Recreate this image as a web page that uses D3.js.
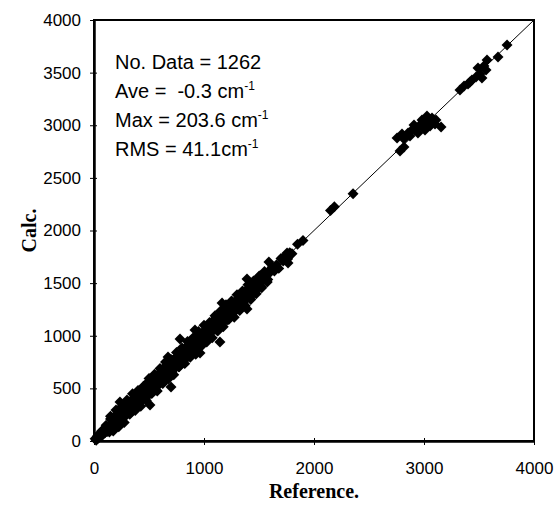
<!DOCTYPE html>
<html>
<head>
<meta charset="utf-8">
<script src="https://cdn.jsdelivr.net/npm/d3@7"></script>
<style>
  body { margin: 0; background: #fff; }
  svg { display: block; }
  .tick text { font-family: "Liberation Sans", Arial, sans-serif; font-size: 17px; fill: #000; }
  .note { font-family: "Liberation Sans", Arial, sans-serif; font-size: 20px; fill: #000; white-space: pre; }
  .title { font-family: "Liberation Serif", "Times New Roman", serif; font-size: 20px; font-weight: bold; fill: #000; }
</style>
</head>
<body>
<div id="chart"></div>
<script>
// axis ticks
var xTicks = [0, 1000, 2000, 3000, 4000];
var yTicks = [0, 500, 1000, 1500, 2000, 2500, 3000, 3500, 4000];

// [reference, calculated] pairs
var lowPoints = [
  [10,22],[20,8],[30,45],[40,28],[50,70],[60,42],[70,95],[80,60],[90,112],[100,78],
  [110,150],[120,90],[130,140],[140,85],[150,210],[160,145],[170,195],[180,135],[190,195],[200,250],
  [210,150],[220,250],[230,210],[240,285],[250,215],[260,260],[270,325],[280,230],[290,310],[300,290],
  [310,345],[320,280],[330,345],[340,275],[350,400],[360,335],[370,400],[380,375],[390,435],[400,345]
];
var midPoints = [
  [410,390],[420,455],[430,380],[440,455],[450,510],[460,420],[470,475],[480,455],[490,535],[500,440],
  [510,530],[520,575],[530,520],[540,495],[550,580],[560,530],[570,620],[580,580],[590,535],[600,625],
  [610,650],[620,605],[630,595],[640,700],[650,660],[660,610],[670,705],[680,660],[690,735],[700,695],
  [710,655],[720,765],[730,725],[740,770],[750,725],[760,810],[770,705],[780,795],[790,750],[800,835],
  [810,800],[820,840],[830,780],[840,895],[850,850],[860,825],[870,915],[880,860],[890,920],[900,840],
  [910,960],[920,925],[930,885],[940,965],[950,935],[960,1020],[970,915],[980,990],[990,960],[1000,1040],
  [215,230],[235,190],[255,290],[275,265],[295,345],[315,285],[335,340],[355,300],[375,415],[395,375],
  [415,440],[435,395],[455,510],[475,460],[495,505],[515,465],[535,565],[555,550],[575,620],[595,560],
  [615,635],[635,575],[655,695],[675,650],[695,695],[715,765],[735,690],[755,770],[775,755],[795,830],
  [815,760],[835,860],[855,845],[875,920],[895,855],[915,925],[935,910],[955,1010],[975,940],[995,1015]
];
var upperPoints = [
  [1010,1005],[1020,1065],[1030,1010],[1040,1075],[1050,1000],[1060,1070],[1070,1130],[1080,1045],[1090,1075],[1100,1140],
  [1110,1135],[1120,1065],[1130,1130],[1140,1190],[1150,1120],[1160,1190],[1170,1125],[1180,1170],[1190,1245],[1200,1220],
  [1210,1150],[1220,1265],[1230,1205],[1240,1245],[1250,1210],[1260,1320],[1270,1285],[1280,1230],[1290,1325],[1300,1280],
  [1015,1035],[1035,995],[1055,1105],[1075,1060],[1095,1125],[1115,1055],[1135,1145],[1155,1200],[1175,1145],[1195,1195],
  [1215,1270],[1235,1190],[1255,1280],[1275,1255],[1295,1335],[1315,1310],[1335,1280],[1355,1390],[1375,1390],[1395,1360],
  [1310,1340],[1320,1275],[1330,1340],[1340,1395],[1350,1330],[1360,1300],[1370,1410],[1380,1380],[1390,1355],[1400,1450],
  [1410,1400],[1420,1445],[1430,1380],[1440,1455],[1450,1495],[1460,1435],[1470,1475],[1480,1440],[1490,1525],[1500,1485],
  [1510,1570],[1520,1465],[1530,1550],[1540,1535],[1550,1590],[1560,1530],[1570,1580],[1580,1535],[1590,1615],[1600,1600],
  [1620,1650],[1640,1615],[1660,1675],[1680,1640],[1700,1735],[1720,1710],[1740,1760],[1760,1730],[1780,1790],[1800,1780]
];
var widePoints = [
  [150,235],[175,95],[200,295],[225,135],[250,325],[275,175],[300,390],[325,255],[350,450],[375,290],
  [400,480],[425,330],[450,520],[475,385],[500,595],[525,450],[550,635],[575,475],[600,690],[625,545],
  [650,750],[675,590],[700,775],[725,630],[750,840],[775,705],[800,885],[825,735],[850,945],[875,795],
  [900,980],[925,825],[950,1040],[975,900],[1000,1100],[1025,940],[1050,1125],[1075,980],[1100,1190],[1125,1045],
  [1150,1235],[1175,1085],[1200,1295],[1225,1155],[1250,1330],[1275,1175],[1300,1390],[1325,1240],[1350,1425],[1375,1285],
  [1400,1485],[1425,1345],[1450,1520],[1475,1400],[1500,1565],[1525,1455],[1550,1610],[1575,1510]
];
var outlierPoints = [
  [236,370],[509,342],[491,561],[527,598],[700,513],[673,798],[782,969],[918,1055],[964,836],
  [1145,941],[1164,1311],[1391,1540],[1391,1255],[1590,1700],[1764,1691],[1755,1786]
];
var highPoints = [
  [1850,1870],[1900,1905],[2150,2190],[2185,2225],[2355,2350],
  [2782,2755],[2818,2793],
  [2755,2879],[2800,2917],[2855,2926],[2891,2955],[2936,2974],[2964,3002],[3000,3012],[3036,3040],
  [3073,3069],[3109,3050],[3155,2983],[3009,2955],[2945,2926],[2873,2898],[3055,2993],[3100,3012],
  [3027,3088],[2818,2869],[2909,3002],[2982,3050],
  [3327,3335],[3364,3373],[3400,3392],[3418,3411],[3436,3430],[3473,3459],[3509,3487],[3545,3563],
  [3573,3620],[3564,3525],[3527,3449],[3491,3544],
  [3673,3649],[3755,3763]
];
var notes = [
  {text: "No. Data = 1262", sup: null},
  {text: "Ave =  -0.3 cm", sup: "-1"},
  {text: "Max = 203.6 cm", sup: "-1"},
  {text: "RMS = 41.1cm", sup: "-1"}
];

var allPoints = lowPoints.concat(midPoints, upperPoints, widePoints, outlierPoints, highPoints);

var W = 556, H = 508;
var margin = {top: 20, right: 22, bottom: 67, left: 94};
var width = W - margin.left - margin.right,
    height = H - margin.top - margin.bottom;

var svg = d3.select("#chart").append("svg")
    .attr("width", W)
    .attr("height", H);
var g = svg.append("g")
    .attr("transform", "translate(" + margin.left + "," + margin.top + ")");

var x = d3.scaleLinear().domain([0, 4000]).range([0, width]);
var y = d3.scaleLinear().domain([0, 4000]).range([height, 0]);

// frame
g.append("rect")
    .attr("width", width)
    .attr("height", height)
    .attr("fill", "none")
    .attr("stroke", "#000")
    .attr("stroke-width", 2);

// 1:1 line
g.append("line")
    .attr("x1", x(0)).attr("y1", y(0))
    .attr("x2", x(4000)).attr("y2", y(4000))
    .attr("stroke", "#000")
    .attr("stroke-width", 1);

// points
var diamond = d3.symbol().type(d3.symbolSquare).size(60);
g.selectAll(".pt")
    .data(allPoints)
    .enter().append("path")
    .attr("class", "pt")
    .attr("d", diamond)
    .attr("fill", "#000")
    .attr("transform", function (d) {
        return "translate(" + x(d[0]) + "," + y(d[1]) + ") rotate(45)";
    });

// axes
var fmt = d3.format("d");
var xAxis = g.append("g")
    .attr("transform", "translate(0," + height + ")")
    .call(d3.axisBottom(x).tickValues(xTicks).tickFormat(fmt).tickSize(4).tickPadding(17).tickSizeOuter(0));
var yAxis = g.append("g")
    .call(d3.axisLeft(y).tickValues(yTicks).tickFormat(fmt).tickSize(4).tickPadding(9).tickSizeOuter(0));

[xAxis, yAxis].forEach(function (a) {
    a.select(".domain").attr("stroke", "#000").attr("stroke-width", 2.5);
    a.selectAll(".tick line").attr("stroke", "#000").attr("stroke-width", 1);
    a.selectAll(".tick text").attr("font-size", null).attr("font-family", null);
});
xAxis.selectAll(".tick line").attr("y1", -3);
yAxis.selectAll(".tick line").attr("x1", 3);

// annotation
var noteText = g.selectAll(".note")
    .data(notes)
    .enter().append("text")
    .attr("class", "note")
    .attr("xml:space", "preserve")
    .attr("x", 21)
    .attr("y", function (d, i) { return 49 + i * 29; });
noteText.append("tspan").text(function (d) { return d.text; });
noteText.filter(function (d) { return d.sup; })
    .append("tspan")
    .attr("dy", -8)
    .attr("font-size", 12)
    .text(function (d) { return d.sup; });

// axis titles
svg.append("text")
    .attr("class", "title")
    .attr("text-anchor", "middle")
    .attr("x", margin.left + width / 2)
    .attr("y", 498)
    .text("Reference.");

svg.append("text")
    .attr("class", "title")
    .attr("text-anchor", "middle")
    .attr("transform", "translate(36," + (margin.top + height / 2) + ") rotate(-90)")
    .text("Calc.");
</script>
</body>
</html>
